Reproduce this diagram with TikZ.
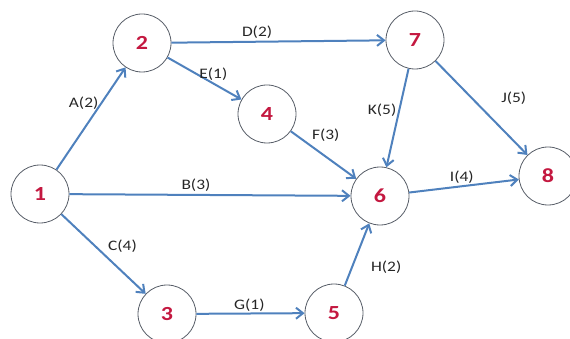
\documentclass[tikz,border=0pt]{standalone}
\usepackage{fontspec}
\setmainfont{Carlito}[FakeStretch=1.2]
\usetikzlibrary{arrows.meta, positioning}
\definecolor{arcblue}{RGB}{79,129,189}
\definecolor{evred}{RGB}{196,24,64}
\definecolor{ringgray}{RGB}{88,94,104}
\tikzset{
event/.style={circle, draw=ringgray, thick, fill=white, minimum size=58pt, inner sep=0pt,
  text=evred, font=\fontsize{20}{20}\selectfont\bfseries}, % the numbered events
arc/.style={draw=arcblue, line width=2pt, -{Straight Barb[length=7pt,width=11pt]}}, % activities
lbl/.style={font=\fontsize{14.5}{14.5}\selectfont, text=black!85, inner sep=2pt}, % activity name and duration
}

\begin{document}
\begin{tikzpicture}[x=1pt, y=-1pt]
    \useasboundingbox (0,0) rectangle (570,339);
    \node[event] (e1) at (40,194) {1};
    \node[event] (e2) at (142,43) {2};
    \node[event] (e3) at (167,314) {3};
    \node[event] (e4) at (267,114) {4};
    \node[event] (e5) at (334,313) {5};
    \node[event] (e6) at (380,196) {6};
    \node[event] (e7) at (415,40) {7};
    \node[event] (e8) at (548,176) {8};
    \path (e1) edge[arc] node[lbl, left, pos=0.65] {A(2)} (e2)
    (e1) edge[arc] node[lbl, above, pos=0.45] {B(3)} (e6)
    (e1) edge[arc] node[lbl, above right, pos=0.52] {C(4)} (e3)
    (e2) edge[arc] node[lbl, above, pos=0.4] {D(2)} (e7)
    (e2) edge[arc] node[lbl, above, pos=0.62] {E(1)} (e4)
    (e4) edge[arc] node[lbl, above right, pos=0.28] {F(3)} (e6)
    (e3) edge[arc] node[lbl, above, pos=0.49, inner sep=1pt] {G(1)} (e5)
    (e5) edge[arc] node[lbl, right=16pt, pos=0.3] {H(2)} (e6)
    (e6) edge[arc] node[lbl, above, pos=0.48] {I(4)} (e8)
    (e7) edge[arc] node[lbl, right=26pt, pos=0.4] {J(5)} (e8)
    (e7) edge[arc] node[lbl, left, pos=0.42] {K(5)} (e6);
\end{tikzpicture}
\end{document}
